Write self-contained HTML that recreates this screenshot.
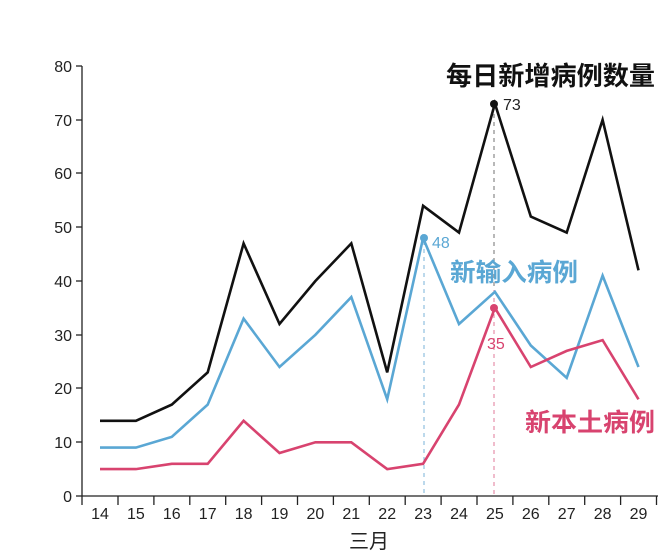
<!DOCTYPE html>
<html><head><meta charset="utf-8"><style>
body{margin:0;background:#fff;}
svg text{font-family:"Liberation Sans","Noto Sans CJK SC",sans-serif;}
</style></head><body>
<svg width="668" height="553" viewBox="0 0 668 553" xmlns="http://www.w3.org/2000/svg">
<g stroke="#222" stroke-width="1.3" fill="none">
<line x1="82" y1="66" x2="82" y2="496"/>
<line x1="82" y1="496" x2="658" y2="496"/>
<line x1="76" y1="496" x2="82" y2="496"/><line x1="76" y1="442" x2="82" y2="442"/><line x1="76" y1="388" x2="82" y2="388"/><line x1="76" y1="335" x2="82" y2="335"/><line x1="76" y1="281" x2="82" y2="281"/><line x1="76" y1="227" x2="82" y2="227"/><line x1="76" y1="173" x2="82" y2="173"/><line x1="76" y1="120" x2="82" y2="120"/><line x1="76" y1="66" x2="82" y2="66"/>
</g>
<g stroke="#222" stroke-width="1.3" id="ticks"></g>
<g font-size="16" fill="#222" text-anchor="end">
<text x="72" y="502">0</text><text x="72" y="448">10</text><text x="72" y="394">20</text><text x="72" y="341">30</text><text x="72" y="287">40</text><text x="72" y="233">50</text><text x="72" y="179">60</text><text x="72" y="126">70</text><text x="72" y="72">80</text>
</g>
<g font-size="16" fill="#222" text-anchor="middle" id="xl"></g>
<text x="369" y="548" font-size="20" text-anchor="middle" fill="#222">三月</text>
<line x1="424" y1="241" x2="424" y2="496" stroke="#7ab3d8" stroke-width="1" stroke-dasharray="4,4"/>
<line x1="494" y1="106" x2="494" y2="496" stroke="#e07a9a" stroke-width="1" stroke-dasharray="4,4"/>
<line x1="494" y1="106" x2="494" y2="290" stroke="#888" stroke-width="1.2" stroke-dasharray="4,4"/>
<g fill="none" stroke-width="2.6" stroke-linejoin="miter">
<polyline id="pk" stroke="#111"/>
<polyline id="pb" stroke="#5aa7d4"/>
<polyline id="pr" stroke="#d8436f"/>
</g>
<circle cx="494" cy="104" r="4" fill="#111"/>
<circle cx="424" cy="238" r="4" fill="#5aa7d4"/>
<circle cx="494" cy="308" r="4" fill="#d8436f"/>
<text x="503" y="110" font-size="16" fill="#222">73</text>
<text x="432" y="248" font-size="16" fill="#5aa7d4">48</text>
<text x="487" y="349" font-size="16" fill="#d8436f">35</text>
<text x="446" y="85" font-size="26" font-weight="bold" fill="#111" textLength="209" lengthAdjust="spacingAndGlyphs">每日新增病例数量</text>
<text x="450" y="281" font-size="25" font-weight="bold" fill="#5aa7d4" textLength="128" lengthAdjust="spacingAndGlyphs">新输入病例</text>
<text x="525" y="431" font-size="25" font-weight="bold" fill="#d8436f" textLength="130" lengthAdjust="spacingAndGlyphs">新本土病例</text>
</svg>
<script>
var k=[14,14,17,23,47,32,40,47,23,54,49,73,52,49,70,42],b=[9,9,11,17,33,24,30,37,18,48,32,38,28,22,41,24],r=[5,5,6,6,14,8,10,10,5,6,17,35,24,27,29,18];
function X(i){return 100+35.9*i}function Y(v){return 496-5.375*v}
function p(a){return a.map(function(v,i){return X(i).toFixed(1)+","+Y(v).toFixed(1)}).join(" ")}
document.getElementById('pk').setAttribute('points',p(k));
document.getElementById('pb').setAttribute('points',p(b));
document.getElementById('pr').setAttribute('points',p(r));
var ns="http://www.w3.org/2000/svg",t=document.getElementById('ticks'),xl=document.getElementById('xl');
for(var i=0;i<16;i++){var tx=document.createElementNS(ns,'text');tx.setAttribute('x',X(i));tx.setAttribute('y',519);tx.textContent=14+i;xl.appendChild(tx);
var l=document.createElementNS(ns,'line');var xx=X(i)+18;l.setAttribute('x1',xx);l.setAttribute('x2',xx);l.setAttribute('y1',496);l.setAttribute('y2',505);t.appendChild(l);}
var l0=document.createElementNS(ns,'line');l0.setAttribute('x1',82);l0.setAttribute('x2',82);l0.setAttribute('y1',496);l0.setAttribute('y2',505);t.appendChild(l0);
</script>
</body></html>
